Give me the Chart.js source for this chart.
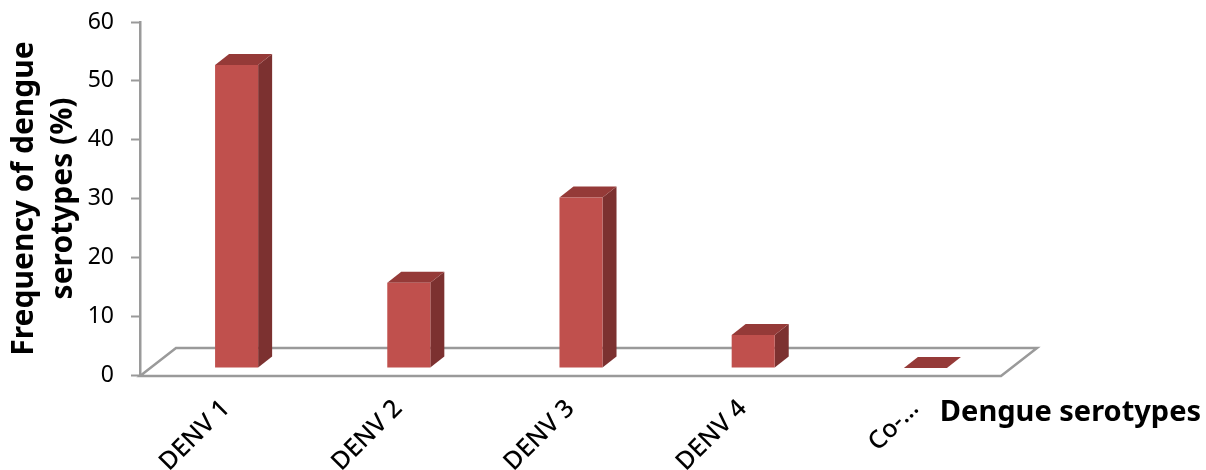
<!DOCTYPE html>
<html>
<head>
<meta charset="utf-8">
<style>
  html, body { margin: 0; padding: 0; background: #fff; }
  canvas { display: block; }
</style>
<script src="https://cdn.jsdelivr.net/npm/chart.js@4/dist/chart.umd.min.js"></script>
</head>
<body>
<canvas id="serotype_chart" width="1206" height="470"></canvas>
<script>
const categories = ['DENV 1', 'DENV 2', 'DENV 3', 'DENV 4', 'Co-…'];
const frequencies = [51.5, 14.5, 29, 5.6, 0];
const yAxisTitle = ['Frequency of dengue', 'serotypes (%)'];
const xAxisTitle = 'Dengue serotypes';

const faceColor = '#c0504d';
const sideColor = '#7c3130';
const topColor = '#953a38';
const axisColor = '#9a9a9a';
const textFont = '"Noto Sans", sans-serif';

// fake 3D: bars sit in the middle of the floor and get a side and a top face
const shiftX = 10.5, shiftY = -7;
const depthX = 14, depthY = -11;
const floorX = 36, floorY = -28;

function face(ctx, points, color) {
    ctx.fillStyle = color;
    ctx.beginPath();
    points.forEach((p, i) => i ? ctx.lineTo(p[0], p[1]) : ctx.moveTo(p[0], p[1]));
    ctx.closePath();
    ctx.fill();
}

const fake3d = {
    id: 'fake3d',
    beforeDatasetsDraw(chart) {
        const { ctx, chartArea: area } = chart;
        const left = area.left, right = area.right, bottom = area.bottom + 1;
        ctx.save();
        ctx.strokeStyle = axisColor;
        ctx.lineWidth = 2.5;
        ctx.beginPath();
        ctx.moveTo(left, bottom);
        ctx.lineTo(left + floorX, bottom + floorY);
        ctx.lineTo(right + floorX, bottom + floorY);
        ctx.lineTo(right, bottom);
        ctx.closePath();
        ctx.stroke();
        ctx.restore();

        ctx.save();
        ctx.translate(shiftX, shiftY);
        chart.getDatasetMeta(0).data.forEach((bar) => {
            const half = bar.width / 2;
            const l = bar.x - half, r = bar.x + half;
            face(ctx, [[r, bar.y], [r + depthX, bar.y + depthY], [r + depthX, bar.base + depthY], [r, bar.base]], sideColor);
            face(ctx, [[l, bar.y], [l + depthX, bar.y + depthY], [r + depthX, bar.y + depthY], [r, bar.y]], topColor);
        });
    },
    afterDatasetsDraw(chart) {
        const { ctx } = chart;
        ctx.restore();
        ctx.save();
        ctx.fillStyle = '#000';
        ctx.font = 'bold 29px ' + textFont;
        ctx.textAlign = 'right';
        ctx.textBaseline = 'alphabetic';
        ctx.fillText(xAxisTitle, 1201, 421);
        ctx.restore();
    },
};

const serotypeChart = new Chart(document.getElementById('serotype_chart'), {
    type: 'bar',
    data: {
        labels: categories,
        datasets: [{
            data: frequencies,
            backgroundColor: faceColor,
            categoryPercentage: 1,
            barPercentage: 0.25,
        }],
    },
    options: {
        responsive: false,
        animation: { duration: 0 },
        layout: { padding: { top: 22, right: 205, left: 0, bottom: 0 } },
        plugins: {
            legend: { display: false },
            tooltip: { enabled: false },
        },
        scales: {
            x: {
                grid: { display: false, drawTicks: false },
                border: { display: false },
                afterFit(scale) { scale.height = 95; },
                ticks: {
                    maxRotation: 45,
                    minRotation: 45,
                    autoSkip: false,
                    padding: 19,
                    color: '#000',
                    font: { family: textFont, size: 25, weight: '500' },
                },
            },
            y: {
                min: 0,
                max: 60,
                afterFit(scale) {
                    scale.width = 140;
                    scale.paddingTop = 0;
                    scale.paddingBottom = 0;
                },
                grid: { drawOnChartArea: false, tickLength: 9, tickColor: axisColor, tickWidth: 2 },
                border: { color: axisColor, width: 2.5 },
                ticks: {
                    stepSize: 10,
                    padding: 17,
                    color: '#000',
                    font: { family: textFont, size: 23 },
                },
                title: {
                    display: true,
                    text: yAxisTitle,
                    color: '#000',
                    padding: { top: 5, bottom: 0 },
                    font: { family: textFont, size: 30, weight: 'bold', lineHeight: 1.3 },
                },
            },
        },
    },
    plugins: [fake3d],
});
</script>
</body>
</html>
